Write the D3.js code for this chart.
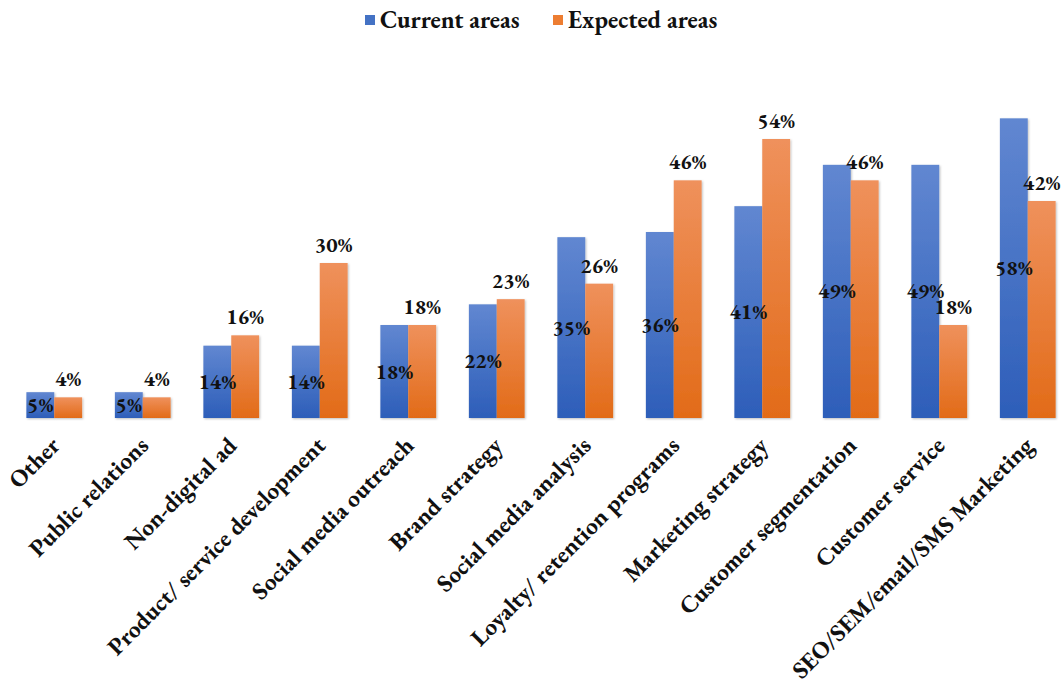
<!DOCTYPE html>
<html>
<head>
<meta charset="utf-8">
<script src="https://cdn.jsdelivr.net/npm/d3@7"></script>
<style>
  html, body { margin: 0; padding: 0; background: #ffffff; }
</style>
</head>
<body>
<svg id="chart" width="1064" height="696"></svg>
<script>
// Marketing areas: current vs expected share of respondents (%)
const categories = [
  "Other", "Public relations", "Non-digital ad", "Product/ service development",
  "Social media outreach", "Brand strategy", "Social media analysis",
  "Loyalty/ retention programs", "Marketing strategy", "Customer segmentation",
  "Customer service", "SEO/SEM/email/SMS Marketing"
];
const seriesNames = ["Current areas", "Expected areas"];
const currentAreas  = [5, 5, 14, 14, 18, 22, 35, 36, 41, 49, 49, 58];
const expectedAreas = [4, 4, 16, 30, 18, 23, 26, 46, 54, 46, 18, 42];

const FONT = "'EB Garamond', 'Liberation Serif', serif";
const svg = d3.select("#chart");

const defs = svg.append("defs");
function grad(id, top, bottom) {
  const g = defs.append("linearGradient").attr("id", id)
    .attr("x1", 0).attr("y1", 0).attr("x2", 0).attr("y2", 1);
  g.append("stop").attr("offset", "0%").attr("stop-color", top);
  g.append("stop").attr("offset", "100%").attr("stop-color", bottom);
}
grad("gBlue", "#6187d1", "#2d5eb9");
grad("gOrange", "#ef915c", "#e26b18");

const shadow = defs.append("filter").attr("id", "shadow")
  .attr("x", "-20%").attr("y", "-5%").attr("width", "140%").attr("height", "115%");
shadow.append("feDropShadow").attr("dx", 1).attr("dy", 1).attr("stdDeviation", 1)
  .attr("flood-color", "#000").attr("flood-opacity", 0.25);

const x0 = d3.scaleBand().domain(categories).range([10, 1072]).paddingInner(0.37).paddingOuter(0.185);
const x1 = d3.scaleBand().domain(seriesNames).range([0, x0.bandwidth()]).padding(0);
const y = d3.scaleLinear().domain([0, 60]).range([418, 108]);

const fills = { "Current areas": "url(#gBlue)", "Expected areas": "url(#gOrange)" };
const legendFills = { "Current areas": "#4472c4", "Expected areas": "#ed7d31" };

const rows = categories.map((c, i) => ({
  cat: c,
  vals: [
    { s: seriesNames[0], v: currentAreas[i] },
    { s: seriesNames[1], v: expectedAreas[i] }
  ]
}));

const groups = svg.append("g").selectAll("g").data(rows).join("g")
  .attr("transform", d => `translate(${x0(d.cat)},0)`);

groups.selectAll("rect").data(d => d.vals).join("rect")
  .attr("x", d => x1(d.s))
  .attr("y", d => y(d.v))
  .attr("width", x1.bandwidth())
  .attr("height", d => y(0) - y(d.v))
  .attr("fill", d => fills[d.s])
  .attr("filter", "url(#shadow)");

// Value labels: current centred inside its bar, expected above its bar
groups.selectAll("text.val").data(d => d.vals).join("text")
  .attr("class", "val")
  .attr("x", d => x1(d.s) + x1.bandwidth() / 2)
  .attr("y", d => d.s === seriesNames[0] ? (y(d.v) + y(0)) / 2 + 7 : y(d.v) - 11)
  .attr("text-anchor", "middle")
  .attr("font-family", FONT)
  .attr("font-weight", "bold")
  .attr("font-size", 21.5)
  .attr("fill", "#111")
  .text(d => d.v + "%");

// Category axis labels, rotated
const xAxis = svg.append("g").attr("transform", `translate(0,${y(0)})`)
  .call(d3.axisBottom(x0).tickSize(0).tickPadding(0));
xAxis.select(".domain").remove();
xAxis.selectAll(".tick text")
  .attr("font-family", FONT)
  .attr("font-weight", "bold")
  .attr("font-size", 24)
  .attr("fill", "#111")
  .attr("text-anchor", "end")
  .attr("dy", null)
  .attr("transform", "translate(7,29) rotate(-45)");

// Legend
const legend = svg.append("g");
const legendItems = [
  { s: seriesNames[0], x: 365 },
  { s: seriesNames[1], x: 553 }
];
legendItems.forEach(it => {
  legend.append("rect").attr("x", it.x).attr("y", 15).attr("width", 10).attr("height", 10)
    .attr("fill", legendFills[it.s]);
  legend.append("text").attr("x", it.x + 15).attr("y", 28)
    .attr("font-family", FONT).attr("font-weight", "bold")
    .attr("font-size", 24.5).attr("fill", "#111").text(it.s);
});
</script>
</body>
</html>
